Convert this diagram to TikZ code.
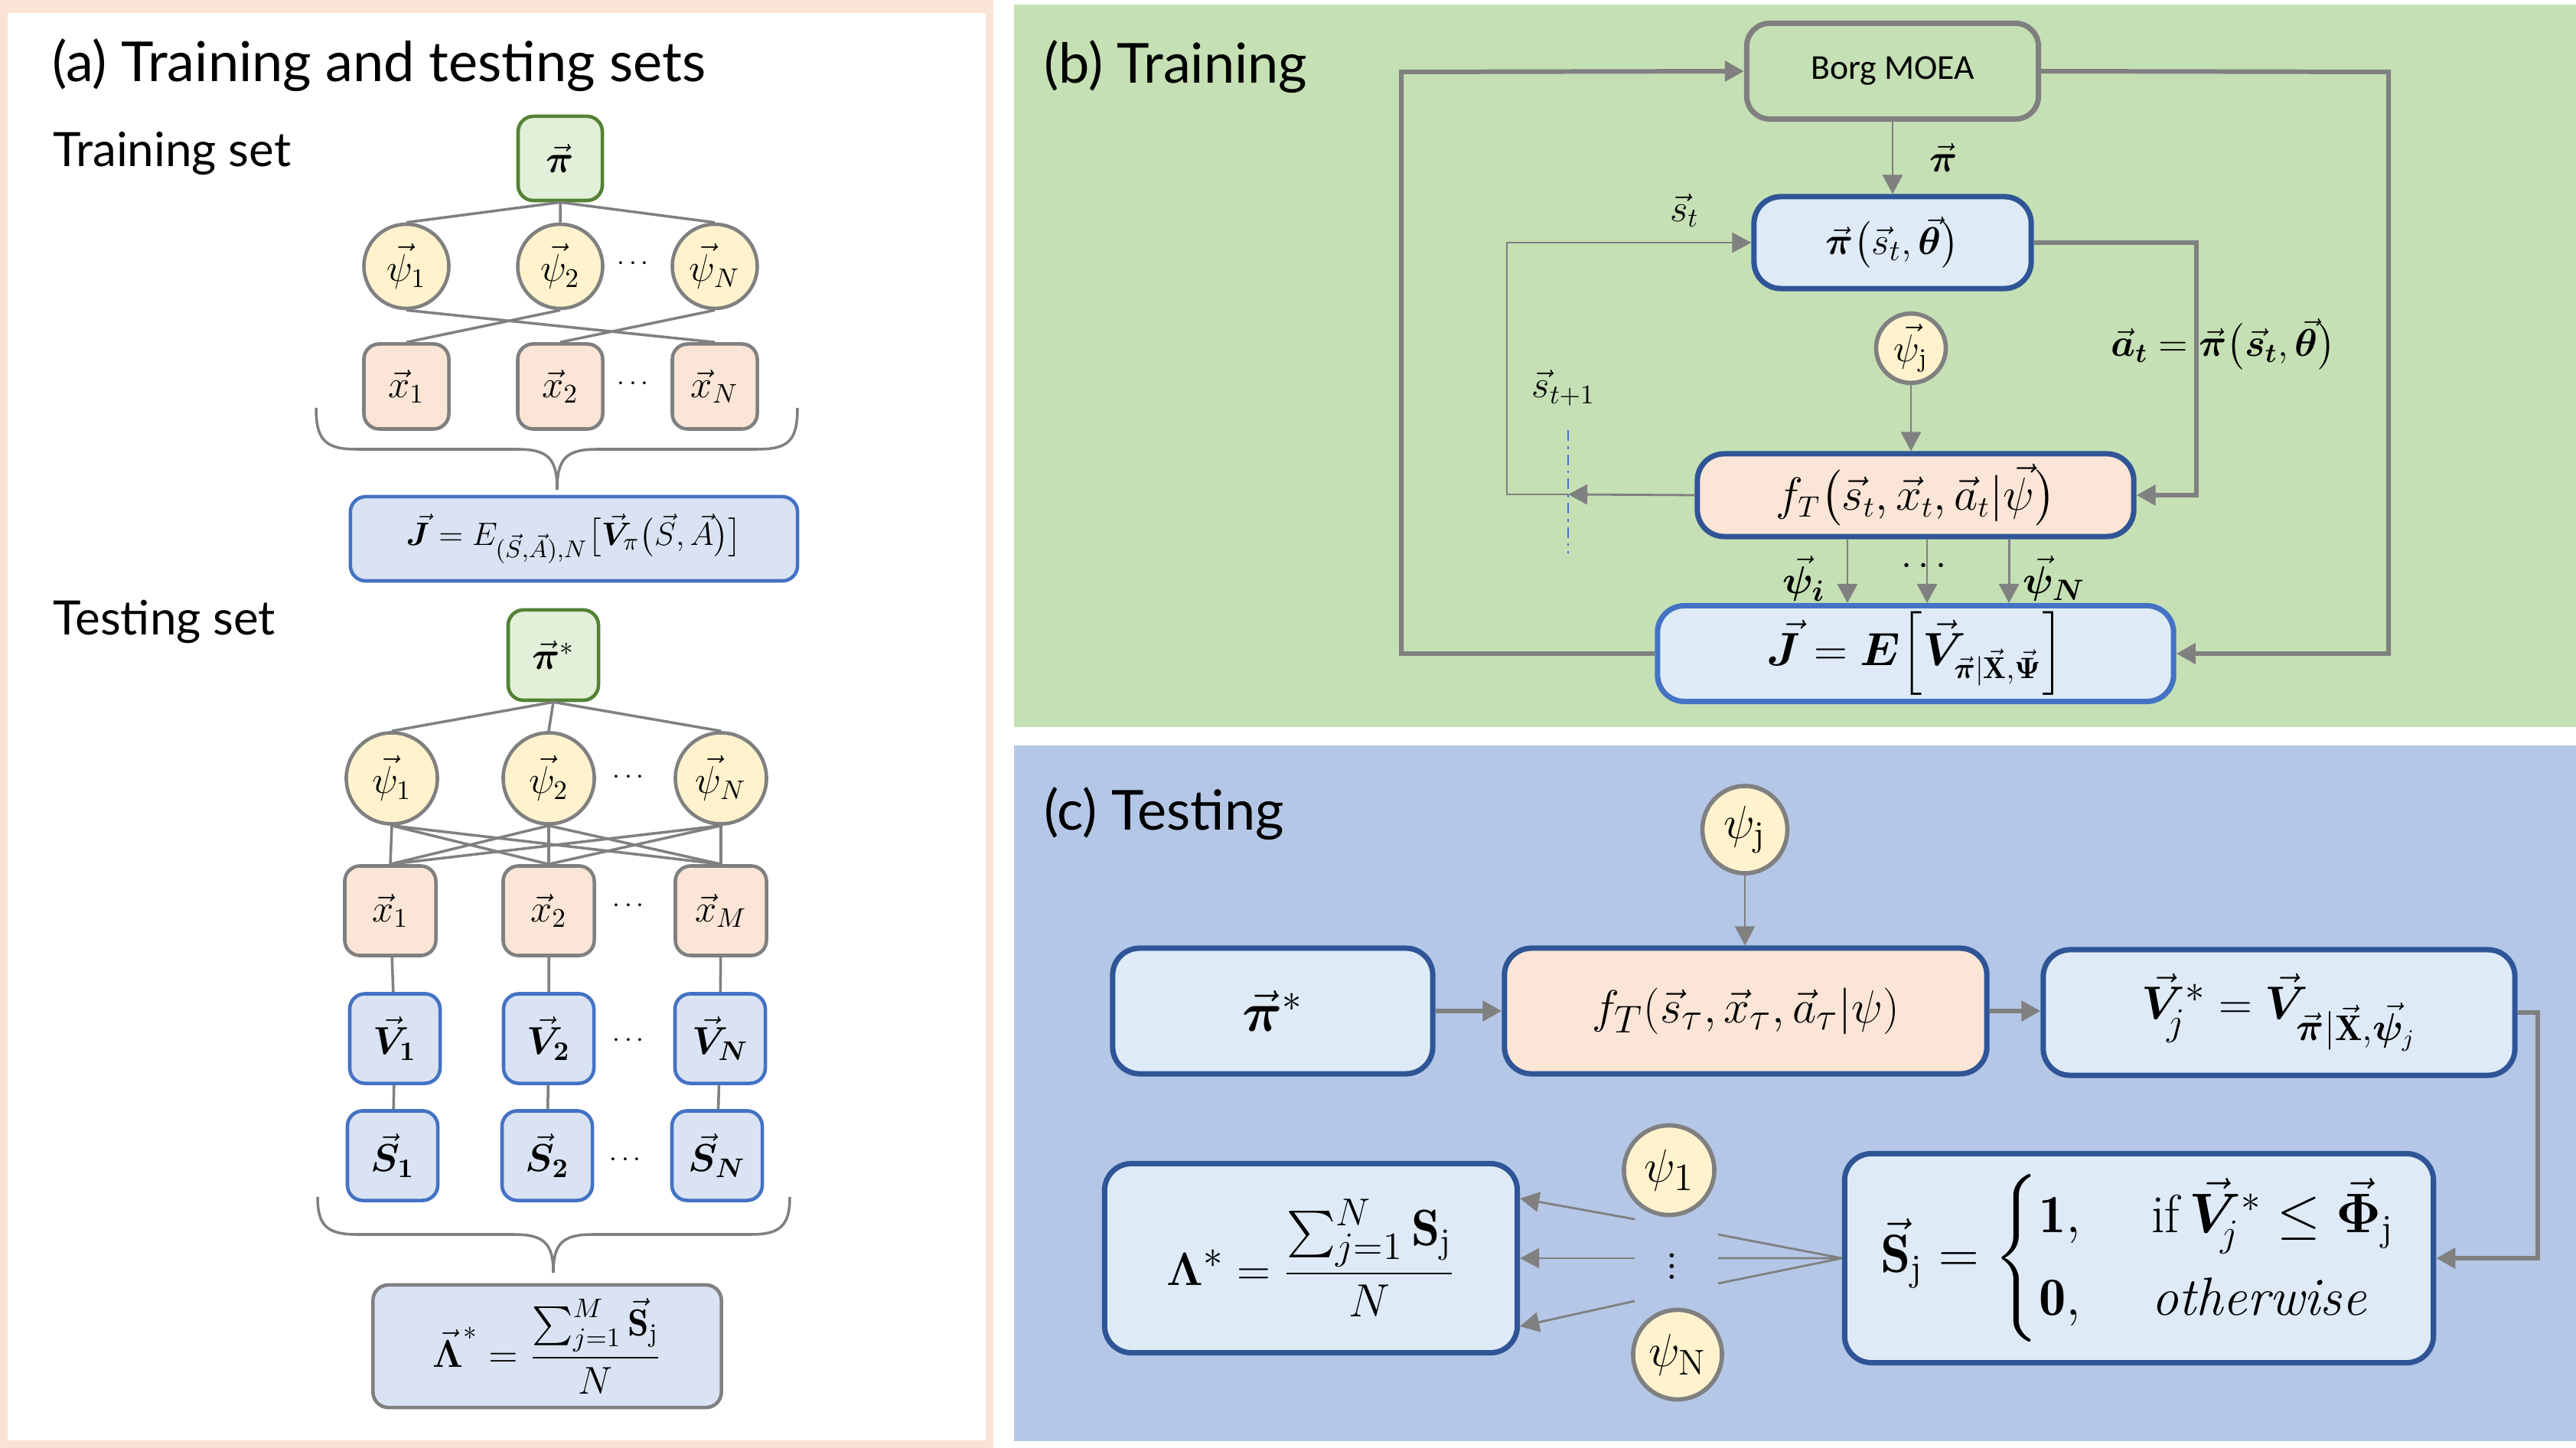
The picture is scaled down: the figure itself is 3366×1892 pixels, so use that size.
\documentclass[tikz,border=0pt]{standalone}
\usepackage{amsmath}
\usepackage{bm}
\usepackage{fontspec}
\setsansfont{Lato}
\newfontfamily\borgfont{Carlito}
\usepackage{tikz}
\usetikzlibrary{arrows.meta,positioning,shapes.geometric}
\definecolor{peachbg}{HTML}{F9E3D5}
\definecolor{greenbg}{HTML}{C5E0B4}
\definecolor{bluebg}{HTML}{B4C7E7}
\definecolor{linegray}{HTML}{808080}
\definecolor{polgreen}{HTML}{E2F0D9}
\definecolor{polborder}{HTML}{548235}
\definecolor{scenfill}{HTML}{FFF2CC}
\definecolor{seriesfill}{HTML}{FBE5D6}
\definecolor{valfill}{HTML}{DAE3F3}
\definecolor{valborder}{HTML}{4472C4}
\definecolor{blockfill}{HTML}{DEEBF7}
\definecolor{blockborder}{HTML}{2F5597}
\tikzset{polbox/.style={rectangle,rounded corners=2mm,line width=1.3pt,draw=polborder,fill=polgreen,inner sep=0pt,minimum width=1.1cm,minimum height=1.1cm,font=\fontsize{14}{16}\selectfont}}
\tikzset{scenario/.style={ellipse,line width=1.3pt,draw=linegray,fill=scenfill,inner sep=0pt,minimum width=1.11cm,minimum height=1.1cm,font=\fontsize{14}{16}\selectfont}}
\tikzset{seriesbox/.style={rectangle,rounded corners=2mm,line width=1.3pt,draw=linegray,fill=seriesfill,inner sep=0pt,minimum width=1.11cm,minimum height=1.11cm,font=\fontsize{14}{16}\selectfont}}
\tikzset{valbox/.style={rectangle,rounded corners=2mm,line width=1.3pt,draw=valborder,fill=valfill,inner sep=0pt,minimum width=1.18cm,minimum height=1.17cm,font=\fontsize{14}{16}\selectfont}}
\tikzset{block/.style={rectangle,rounded corners=3.5mm,line width=2pt,draw=blockborder,fill=blockfill,inner sep=0pt}}
\tikzset{link/.style={draw=linegray,line width=1pt}}
\tikzset{flow/.style={draw=linegray,line width=1.7pt,->}}
\tikzset{feed/.style={draw=linegray,line width=0.8pt,->}}
\tikzset{heading/.style={anchor=base west,font=\sffamily\fontsize{20.5}{24}\selectfont}}
\tikzset{subheading/.style={anchor=base west,font=\sffamily\fontsize{17.6}{21}\selectfont}}

\begin{document}
\begin{tikzpicture}[x=0.01cm,y=-0.01cm,>={Triangle[length=2.5mm,width=2.6mm]}]
  \useasboundingbox (0,0) rectangle (3366,1892);
  % panels
  \fill[white] (0,0) rectangle (3366,1892);
  \fill[peachbg] (0,0) rectangle (1298,1892);
  \fill[white] (10,17) rectangle (1288,1882);
  \fill[greenbg] (1325,6) rectangle (3366,950);
  \fill[bluebg] (1325,974) rectangle (3366,1883);

  % (a) training and testing sets
  \node[heading] (titlea) at (56,107) {(a) Training and testing sets};
  \node[subheading] (trainlab) at (57,218) {Training set};
  \node[polbox] (pi) at (732,207) {$\vec{\bm\pi}$};
  \node[scenario] (psi1) at (531,348) {$\vec{\psi}_1$};
  \node[scenario] (psi2) at (732,348) {$\vec{\psi}_2$};
  \node[scenario] (psiN) at (934,348) {$\vec{\psi}_N$};
  \node (dotsa) at (830,345) {$\cdots$};
  \node[seriesbox] (x1) at (531,505) {$\vec{x}_1$};
  \node[seriesbox] (x2) at (732,505) {$\vec{x}_2$};
  \node[seriesbox] (xN) at (934,505) {$\vec{x}_N$};
  \node (dotsb) at (830,502) {$\cdots$};
  \node[valbox,minimum width=5.84cm,minimum height=1.1cm,font=\fontsize{13}{15}\selectfont] (Ja) at (750,704)
    {$\vec{\bm J} = E_{(\vec{S},\vec{A}),N}\big[\vec{\bm V}_{\pi}\big(\vec{S},\vec{A}\big)\big]$};
  \draw[link] (pi.south) -- (psi1.north) (pi.south) -- (psi2.north) (pi.south) -- (psiN.north);
  \draw[link] (psi1.south) -- (xN.north) (psi2.south) -- (x1.north) (psiN.south) -- (x2.north);
  \draw[link] (413,533) .. controls (413,575) and (425,587) .. (466,587) -- (676,587)
    .. controls (717,587) and (728,600) .. (728,640) .. controls (728,600) and (739,587) .. (780,587)
    -- (990,587) .. controls (1031,587) and (1042,575) .. (1042,533);

  \node[subheading] (testlab) at (57,830) {Testing set};
  \node[polbox,minimum size=1.18cm] (pis) at (723,856) {$\vec{\bm\pi}^{*}$};
  \node[scenario,minimum size=1.19cm] (tpsi1) at (512,1017) {$\vec{\psi}_1$};
  \node[scenario,minimum size=1.19cm] (tpsi2) at (717,1017) {$\vec{\psi}_2$};
  \node[scenario,minimum size=1.19cm] (tpsiN) at (942,1017) {$\vec{\psi}_N$};
  \node (dotsc) at (824,1016) {$\cdots$};
  \node[seriesbox,minimum width=1.19cm,minimum height=1.17cm] (tx1) at (510,1190) {$\vec{x}_1$};
  \node[seriesbox,minimum width=1.19cm,minimum height=1.17cm] (tx2) at (717,1190) {$\vec{x}_2$};
  \node[seriesbox,minimum width=1.19cm,minimum height=1.17cm] (txM) at (942,1190) {$\vec{x}_M$};
  \node (dotsd) at (824,1184) {$\cdots$};
  \node[valbox] (tv1) at (516,1357) {$\vec{\bm V}_{\bm 1}$};
  \node[valbox] (tv2) at (717,1357) {$\vec{\bm V}_{\bm 2}$};
  \node[valbox] (tvN) at (941,1357) {$\vec{\bm V}_{\bm N}$};
  \node (dotse) at (824,1360) {$\cdots$};
  \node[valbox] (ts1) at (513,1510) {$\vec{\bm S}_{\bm 1}$};
  \node[valbox] (ts2) at (715,1510) {$\vec{\bm S}_{\bm 2}$};
  \node[valbox] (tsN) at (937,1510) {$\vec{\bm S}_{\bm N}$};
  \node (dotsf) at (820,1516) {$\cdots$};
  \node[valbox,draw=linegray,minimum width=4.55cm,minimum height=1.6cm,font=\fontsize{14}{17}\selectfont] (La) at (715,1759)
    {$\vec{\bm\Lambda}^{*} = \dfrac{\textstyle\sum_{j=1}^{M}\vec{\mathbf S}_{\mathrm j}}{N}$};
  \draw[link] (pis.south) -- (tpsi1.north) (pis.south) -- (tpsi2.north) (pis.south) -- (tpsiN.north);
  \draw[link] (tpsi1.south) edge (tx1.north) (tpsi1.south) edge (tx2.north) (tpsi1.south) edge (txM.north)
              (tpsi2.south) edge (tx1.north) (tpsi2.south) edge (tx2.north) (tpsi2.south) edge (txM.north)
              (tpsiN.south) edge (tx1.north) (tpsiN.south) edge (tx2.north) (tpsiN.south) edge (txM.north);
  \draw[link] (tx1) -- (tv1) (tx2) -- (tv2) (txM) -- (tvN);
  \draw[link] (tv1) -- (ts1) (tv2) -- (ts2) (tvN) -- (tsN);
  \draw[link] (415,1564) .. controls (415,1601) and (427,1613) .. (466,1613) -- (672,1613)
    .. controls (711,1613) and (723,1625) .. (723,1663) .. controls (723,1625) and (735,1613) .. (774,1613)
    -- (981,1613) .. controls (1020,1613) and (1032,1601) .. (1032,1564);

  % (b) training
  \node[heading] (titleb) at (1352,109) {(b) Training};
  \node[block,draw=linegray,fill=greenbg,rounded corners=3mm,minimum width=3.81cm,minimum height=1.25cm,font=\borgfont\fontsize{13}{15}\selectfont] (borg) at (2473,93) {Borg MOEA};
  \node[block,minimum width=3.62cm,minimum height=1.2cm,font=\fontsize{15}{18}\selectfont] (pol) at (2473,317)
    {$\vec{\bm\pi}\big(\vec{s}_t,\vec{\bm\theta}\big)$};
  \node[scenario,line width=1.6pt,minimum width=0.91cm,minimum height=0.9cm,font=\fontsize{14}{16}\selectfont] (psij) at (2497,455) {$\vec{\psi}_{\mathrm j}$};
  \node[block,fill=seriesfill,minimum width=5.7cm,minimum height=1.08cm,font=\fontsize{16}{19}\selectfont] (fT) at (2503,647)
    {$f_T\big(\vec{s}_t,\vec{x}_t,\vec{a}_t|\vec{\psi}\big)$};
  \node[block,draw=valborder,minimum width=6.74cm,minimum height=1.25cm,font=\fontsize{16}{19}\selectfont] (J) at (2503,854)
    {$\vec{\bm J} = \bm E\Big[\vec{\bm V}_{\vec{\bm\pi}|\vec{\mathbf X},\vec{\bm\Psi}}\Big]$};
  \coordinate (lt) at (1831,94);
  \coordinate (rt) at (3121,94);
  \coordinate (ar) at (2870,317);
  \coordinate (cut) at (2049,646);
  \coordinate (lb) at (1969,646);
  \draw[flow] (J.west) -| (lt) -- (borg.west);
  \draw[flow] (borg.east) -- (rt) |- (J.east);
  \draw[feed] (borg.south) -- node[right=3.5mm,font=\fontsize{15}{18}\selectfont] (pilab) {$\vec{\bm\pi}$} (pol.north);
  \draw[flow] (pol.east) -- (ar) |- (fT.east);
  \draw[feed] (fT.west) -- (cut);
  \draw[feed] (cut) -- (lb) |- (pol.west);
  \draw[valborder,line width=0.6pt,dash pattern=on 4pt off 2pt on 1pt off 2pt] (2049,562) -- (2049,723);
  \draw[feed] (psij.south) -- (psij.south |- fT.north);
  \draw[feed] ([xshift=-0.89cm]fT.south) -- ([xshift=-0.89cm]J.north);
  \draw[feed] ([xshift=0.15cm]fT.south) -- ([xshift=0.15cm]J.north);
  \draw[feed] ([xshift=1.22cm]fT.south) -- ([xshift=1.22cm]J.north);
  \node[font=\fontsize{14}{16}\selectfont] (stlab) at (2201,275) {$\vec{s}_t$};
  \node[font=\fontsize{14}{16}\selectfont] (st1lab) at (2043,507) {$\vec{s}_{t+1}$};
  \node[font=\fontsize{14}{16}\selectfont] (atlab) at (2905,450) {$\vec{\bm a}_{\bm t} = \vec{\bm\pi}\big(\vec{\bm s}_{\bm t},\vec{\bm\theta}\big)$};
  \node[font=\fontsize{15}{18}\selectfont] (psiilab) at (2357,756) {$\vec{\bm\psi}_{\bm i}$};
  \node[font=\fontsize{14}{16}\selectfont] (dotsg) at (2518,740) {$\cdots$};
  \node[font=\fontsize{15}{18}\selectfont] (psiNlab) at (2684,756) {$\vec{\bm\psi}_{\bm N}$};

  % (c) testing
  \node[heading] (titlec) at (1352,1085) {(c) Testing};
  \node[scenario,line width=1.6pt,minimum width=1.11cm,minimum height=1.14cm,font=\fontsize{19}{22}\selectfont] (psic) at (2280,1084) {$\psi_{\mathrm j}$};
  \node[block,minimum width=4.18cm,minimum height=1.64cm,font=\fontsize{20}{24}\selectfont] (pistar) at (1663,1321) {$\vec{\bm\pi}^{*}$};
  \node[block,fill=seriesfill,minimum width=6.3cm,minimum height=1.64cm,font=\fontsize{19}{22}\selectfont] (fT2) at (2281,1321)
    {$f_T(\vec{s}_\tau,\vec{x}_\tau,\vec{a}_\tau|\psi)$};
  \node[block,minimum width=6.16cm,minimum height=1.64cm,font=\fontsize{19}{22}\selectfont] (vstar) at (2978,1323)
    {$\vec{\bm V}_{\!j}^{*} = \vec{\bm V}_{\vec{\bm\pi}|\vec{\mathbf X},\vec{\bm\psi}_j}$};
  \node[block,minimum width=7.69cm,minimum height=2.73cm,font=\fontsize{20}{24}\selectfont] (score) at (2795,1644)
    {$\vec{\mathbf S}_{\mathrm j} = \begin{cases}\mathbf{1}, & \hspace{0.3em}\text{if}\,\vec{\bm V}_{\!j}^{*}\le\vec{\bm\Phi}_{\mathrm j}\\[2pt] \mathbf{0}, & \hspace{0.3em}\textit{otherwise}\end{cases}$};
  \node[block,minimum width=5.39cm,minimum height=2.47cm,font=\fontsize{19}{22}\selectfont] (ratio) at (1713,1644)
    {$\bm\Lambda^{*} = \dfrac{\textstyle\sum_{j=1}^{N}\mathbf S_{\mathrm j}}{N}$};
  \node[scenario,line width=1.6pt,minimum width=1.18cm,minimum height=1.17cm,font=\fontsize{19}{22}\selectfont] (psic1) at (2181,1529) {$\psi_1$};
  \node[scenario,line width=1.6pt,minimum width=1.16cm,minimum height=1.17cm,font=\fontsize{19}{22}\selectfont] (psicN) at (2192,1770) {$\psi_{\mathrm N}$};
  \node[font=\fontsize{19}{22}\selectfont] (vdotsc) at (2185,1644) {$\vdots$};
  \coordinate (vr) at (3316,1323);
  \coordinate (f1) at (2245,1613);
  \coordinate (f2) at (2245,1644);
  \coordinate (f3) at (2245,1677);
  \coordinate (g1) at (2136,1593);
  \coordinate (g2) at (2136,1644);
  \coordinate (g3) at (2136,1700);
  \draw[flow] (pistar) -- (fT2);
  \draw[flow] (fT2) -- (fT2 -| vstar.west);
  \draw[feed] (psic.south) -- (psic.south |- fT2.north);
  \draw[flow] (vstar.east) -- (vr) |- (score.east);
  \draw[link,line width=0.8pt] (score.west) -- (f1) (score.west) -- (f2) (score.west) -- (f3);
  \draw[feed] (g1) -- ([yshift=0.78cm]ratio.east);
  \draw[feed] (g2) -- (ratio.east);
  \draw[feed] (g3) -- ([yshift=-0.89cm]ratio.east);
\end{tikzpicture}
\end{document}
